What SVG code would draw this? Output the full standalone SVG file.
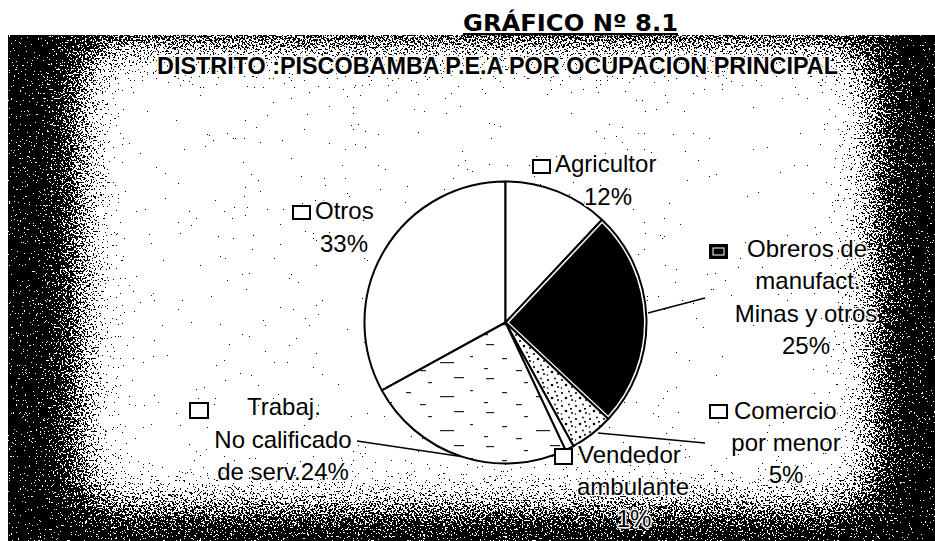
<svg xmlns="http://www.w3.org/2000/svg" width="935" height="541" viewBox="0 0 935 541">
<defs>
<style>
.t{font-family:"Liberation Sans",Arial,sans-serif;font-size:24px;fill:#000;stroke:#fff;stroke-width:3px;paint-order:stroke;stroke-linejoin:round}
.key{fill:#fff;stroke:#000;stroke-width:2}
.sl{stroke:#000;stroke-width:2;stroke-linejoin:round}
.ld{fill:none;stroke:#000;stroke-width:1.4}
</style>
<filter id="vig" filterUnits="userSpaceOnUse" x="8" y="35" width="927" height="506" color-interpolation-filters="sRGB">
<feFlood flood-color="#000" result="bk"/>
<feGaussianBlur in="SourceGraphic" stdDeviation="28" result="bl"/>
<feMerge result="vg"><feMergeNode in="bk"/><feMergeNode in="bl"/></feMerge>
<feTurbulence type="fractalNoise" baseFrequency="0.55" numOctaves="2" seed="7" result="tn"/>
<feColorMatrix in="tn" type="matrix" values="1 0 0 0 0 1 0 0 0 0 1 0 0 0 0 0 0 0 0 1" result="gn"/>
<feComposite in="vg" in2="gn" operator="arithmetic" k1="0" k2="1.05" k3="2" k4="-0.92" result="sum"/>
<feComponentTransfer in="sum">
<feFuncR type="discrete" tableValues="0 1"/>
<feFuncG type="discrete" tableValues="0 1"/>
<feFuncB type="discrete" tableValues="0 1"/>
<feFuncA type="linear" slope="0" intercept="1"/>
</feComponentTransfer>
</filter>
<pattern id="dots" patternUnits="userSpaceOnUse" width="14" height="13">
<rect width="14" height="13" fill="#fff"/>
<circle cx="2" cy="3" r="1.1" fill="#000"/>
<circle cx="9" cy="1.5" r="0.9" fill="#000"/>
<circle cx="6" cy="8" r="1.3" fill="#000"/>
<circle cx="12" cy="10" r="1" fill="#000"/>
<rect x="10" y="5" width="2" height="1.5" fill="#000"/>
<circle cx="1.5" cy="11" r="0.8" fill="#000"/>
</pattern>
<pattern id="dash" patternUnits="userSpaceOnUse" width="96" height="34">
<rect width="96" height="34" fill="#fff"/>
<rect x="6" y="4" width="8" height="1.2" fill="#222"/>
<rect x="44" y="8" width="4" height="1.2" fill="#222"/>
<rect x="70" y="3" width="10" height="1.2" fill="#222"/>
<rect x="22" y="18" width="5" height="1.2" fill="#222"/>
<rect x="56" y="22" width="14" height="1.2" fill="#222"/>
<rect x="86" y="16" width="3" height="1.2" fill="#222"/>
<rect x="4" y="28" width="4" height="1.2" fill="#222"/>
<rect x="36" y="30" width="6" height="1.2" fill="#222"/>
</pattern>
</defs>
<rect width="935" height="541" fill="#fff"/>
<g id="frame">
<rect x="86" y="47" width="782" height="455" fill="#fff" filter="url(#vig)"/>
</g>
<g id="titles">
<text x="463" y="31" font-family="'DejaVu Sans',Verdana,sans-serif" font-weight="bold" font-size="23" textLength="215" lengthAdjust="spacingAndGlyphs" text-decoration="underline">GRÁFICO Nº 8.1</text>
<text class="t" x="157" y="74" font-weight="bold" style="font-size:23px;stroke-width:3.5px" textLength="681" lengthAdjust="spacingAndGlyphs">DISTRITO :PISCOBAMBA P.E.A POR OCUPACION PRINCIPAL</text>
</g>
<g id="pie">
<path id="s-otros" class="sl" fill="#fff" d="M505.5,322.5 L381.9,390.4 A141,141 0 0 1 505.5,181.5 Z"/>
<path id="s-agricultor" class="sl" fill="#fff" d="M505.5,322.5 L505.5,181.5 A141,141 0 0 1 602,219.7 Z"/>
<g id="s-obreros">
<path class="sl" fill="#fff" d="M505.5,322.5 L602,219.7 A141,141 0 0 1 608.3,419 Z"/>
<path fill="#000" d="M509,322.4 L602.1,223.3 A138.5,138.5 0 0 1 608.1,415.5 Z"/>
</g>
<path id="s-comercio" class="sl" fill="url(#dots)" d="M505.5,322.5 L608.3,419 A141,141 0 0 1 573.4,446.1 Z"/>
<path id="s-vendedor" class="sl" fill="#fff" d="M505.5,322.5 L573.4,446.1 A141,141 0 0 1 565.5,450.1 Z"/>
<path id="s-trabaj" class="sl" fill="url(#dash)" d="M505.5,322.5 L565.5,450.1 A141,141 0 0 1 381.9,390.4 Z"/>
</g>
<g id="connectors">
<path class="ld" d="M648,313 L705,298"/>
<path class="ld" d="M598,433 L705,443"/>
<path class="ld" d="M357,441 L461,456.5"/>
</g>
<g id="lbl-agricultor">
<rect class="key" x="533" y="160" width="17" height="13"/>
<text class="t" x="555" y="172">Agricultor</text>
<text class="t" x="584" y="205">12%</text>
</g>
<g id="lbl-otros">
<rect class="key" x="293" y="206" width="17" height="13"/>
<text class="t" x="315" y="219">Otros</text>
<text class="t" x="320" y="252">33%</text>
</g>
<g id="lbl-obreros">
<rect x="710" y="245" width="17" height="13" fill="#000" stroke="#000" stroke-width="2"/>
<rect x="713" y="248" width="11" height="7" fill="none" stroke="#fff" stroke-width="1"/>
<text class="t" x="747" y="257">Obreros de</text>
<text class="t" x="808" y="289" text-anchor="middle">manufact.</text>
<text class="t" x="806" y="322" text-anchor="middle">Minas y otros</text>
<text class="t" x="806" y="354" text-anchor="middle">25%</text>
</g>
<g id="lbl-comercio">
<rect class="key" x="710" y="405" width="17" height="13"/>
<text class="t" x="734" y="419">Comercio</text>
<text class="t" x="786" y="451" text-anchor="middle">por menor</text>
<text class="t" x="786" y="483" text-anchor="middle">5%</text>
</g>
<g id="lbl-vendedor">
<rect class="key" x="555" y="449" width="17" height="15"/>
<text class="t" x="578" y="463">Vendedor</text>
<text class="t" x="633" y="495" text-anchor="middle">ambulante</text>
<text class="t" x="634" y="527" text-anchor="middle">1%</text>
</g>
<g id="lbl-trabaj">
<rect class="key" x="190" y="403" width="18" height="15"/>
<text class="t" x="247" y="415">Trabaj.</text>
<text class="t" x="283" y="448" text-anchor="middle">No calificado</text>
<text class="t" x="283" y="480" text-anchor="middle">de serv.24%</text>
</g>
</svg>
